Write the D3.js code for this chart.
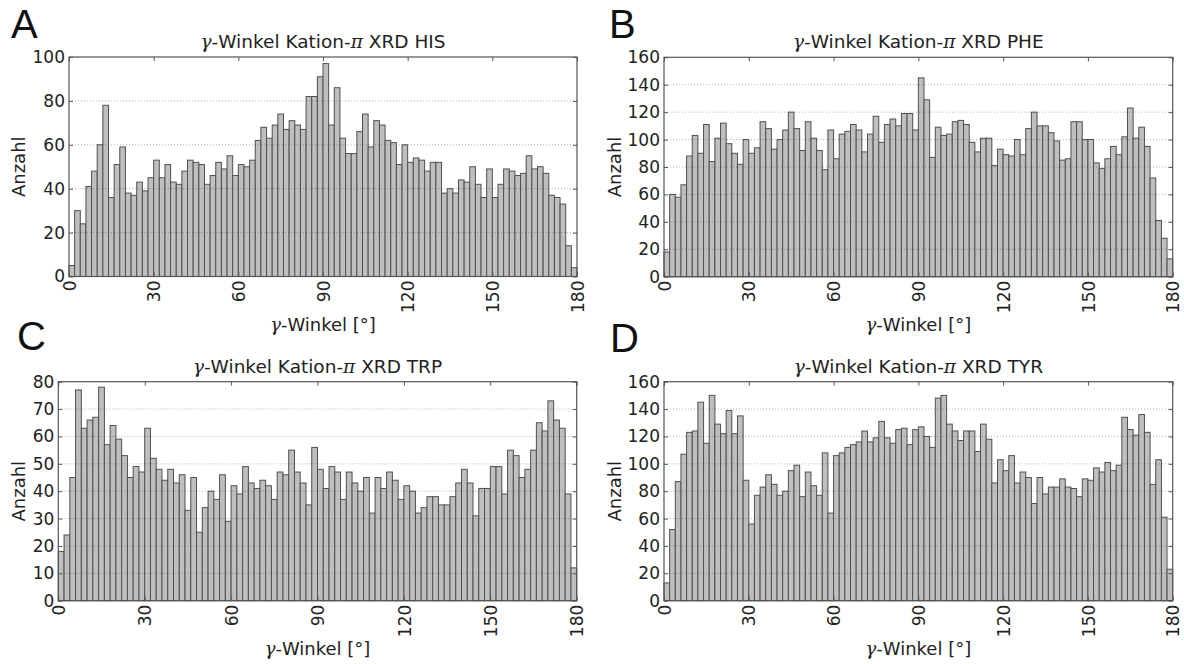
<!DOCTYPE html>
<html><head><meta charset="utf-8">
<script src="https://cdn.jsdelivr.net/npm/d3@7"></script>
<style>body{margin:0;background:#fff}svg{display:block}</style>
</head><body>
<svg id="c" width="1184" height="664"></svg>
<script>
// ---- data ----
const binEdges = d3.range(0, 182, 2);           // 0,2,...,180  (90 bins)
const xTickValues = [0, 30, 60, 90, 120, 150, 180];
const residues = ["HIS", "PHE", "TRP", "TYR"];
const panelLetters = ["A", "B", "C", "D"];

const countsHIS = [5,30,24,41,48,60,78,36,51,59, 38,37,43,39,45,53,45,51,43,42,
  48,53,52,51,42,46,52,49,55,46, 51,50,53,62,68,63,69,74,67,71,
  69,67,82,82,91,97,69,86,63,56, 56,66,74,59,71,69,62,61,51,60,
  52,54,53,48,52,52,38,40,38,44, 43,50,42,36,49,36,42,49,48,46,
  47,55,49,50,47,37,36,33,14,4];
const countsPHE = [18,60,58,67,88,103,90,111,84,101, 112,97,90,82,100,90,94,113,108,93,
  100,107,120,108,92,113,101,92,78,107, 86,104,106,111,107,91,104,117,98,111,
  115,110,119,119,107,145,129,87,109,103, 104,113,114,111,98,91,101,101,81,93,
  89,88,100,89,108,120,110,110,105,99, 85,86,113,113,100,100,83,79,86,95,
  89,102,123,101,109,95,72,41,28,13];
const countsTRP = [18,24,45,77,63,66,67,78,57,64, 59,53,45,49,47,63,52,48,44,48,
  43,46,33,45,25,34,40,37,46,29, 42,39,49,43,41,44,42,37,47,46,
  55,47,43,35,56,48,41,49,47,37, 47,43,40,45,32,45,41,47,44,37,
  42,40,32,34,38,38,35,35,38,43, 48,43,31,41,41,49,49,39,55,53,
  45,48,55,65,62,73,66,63,39,12];
const countsTYR = [13,52,87,107,123,124,145,115,150,129, 122,139,122,135,88,56,77,83,92,85,
  77,80,95,99,76,94,84,77,108,64, 106,108,112,114,116,124,116,119,131,119,
  115,125,126,114,125,127,120,112,148,150, 129,124,117,124,124,109,129,118,86,103,
  95,106,86,94,90,71,90,78,83,83, 89,83,82,76,89,88,97,94,101,95,
  99,134,125,121,136,123,85,103,61,23];

const yTicksHIS = [0, 20, 40, 60, 80, 100];
const yTicksPHE = [0, 20, 40, 60, 80, 100, 120, 140, 160];
const yTicksTRP = [0, 10, 20, 30, 40, 50, 60, 70, 80];
const yTicksTYR = [0, 20, 40, 60, 80, 100, 120, 140, 160];

const seriesCounts = [countsHIS, countsPHE, countsTRP, countsTYR];
const seriesYTicks = [yTicksHIS, yTicksPHE, yTicksTRP, yTicksTYR];

// ---- layout (pixel positions, kept apart from the data) ----
const layout = [
  {l: 69,   r: 577,    t: 57,    b: 276.5, lx: 11,  ly: 38,  yl: 19},
  {l: 664,  r: 1172.7, t: 57.3,  b: 276.7, lx: 609, ly: 38,  yl: 614.5},
  {l: 58.3, r: 576.7,  t: 381.7, b: 600.7, lx: 17,  ly: 350, yl: 19},
  {l: 664,  r: 1172.7, t: 381.7, b: 600.7, lx: 610, ly: 352, yl: 614.5}
];

const svg = d3.select("#c");
const FONT = "DejaVu Sans";
const TXT = "#222";

function gammaText(sel, parts) {
  parts.forEach(([t, m]) => {
    const ts = sel.append("tspan").text(t);
    if (m) ts.attr("font-family", "DejaVu Serif").attr("font-style", "italic");
  });
}

seriesCounts.forEach((counts, k) => {
  const L = layout[k];
  const yTicks = seriesYTicks[k];
  const x = d3.scaleLinear().domain([binEdges[0], binEdges[binEdges.length - 1]]).range([L.l, L.r]);
  const y = d3.scaleLinear().domain([0, d3.max(yTicks)]).range([L.b, L.t]);
  const g = svg.append("g");

  const bins = counts.map((v, i) => ({x0: binEdges[i], x1: binEdges[i + 1], v}));
  g.append("g").selectAll("rect").data(bins).join("rect")
    .attr("x", d => x(d.x0))
    .attr("width", d => x(d.x1) - x(d.x0))
    .attr("y", d => y(d.v))
    .attr("height", d => y(0) - y(d.v))
    .attr("fill", "#bfbfbf")
    .attr("stroke", "#505050")
    .attr("stroke-width", 1);

  g.append("g").selectAll("line").data(yTicks.slice(1, -1)).join("line")
    .attr("x1", L.l).attr("x2", L.r)
    .attr("y1", d => y(d)).attr("y2", d => y(d))
    .attr("stroke", "#000").attr("stroke-opacity", 0.3)
    .attr("stroke-width", 1).attr("stroke-dasharray", "1,2");

  g.append("rect").attr("x", L.l).attr("y", L.t)
    .attr("width", L.r - L.l).attr("height", L.b - L.t)
    .attr("fill", "none").attr("stroke", "#555").attr("stroke-width", 1.2);

  const ax = g.append("g").attr("transform", `translate(0,${L.b})`)
    .call(d3.axisBottom(x).tickValues(xTickValues).tickSizeInner(-4).tickSizeOuter(0).tickPadding(4));
  ax.select(".domain").remove();
  ax.selectAll(".tick line").attr("stroke", "#555");
  ax.selectAll("text")
    .attr("transform", "rotate(-90)").attr("text-anchor", "end")
    .attr("x", -4).attr("y", 0).attr("dy", "0.36em")
    .attr("font-family", FONT).attr("font-size", 17).attr("fill", TXT);

  const axT = g.append("g").attr("transform", `translate(0,${L.t})`)
    .call(d3.axisTop(x).tickValues(xTickValues).tickSizeInner(-4).tickSizeOuter(0).tickFormat(""));
  axT.select(".domain").remove();
  axT.selectAll(".tick line").attr("stroke", "#555");

  const ay = g.append("g").attr("transform", `translate(${L.l},0)`)
    .call(d3.axisLeft(y).tickValues(yTicks).tickSizeInner(-4).tickSizeOuter(0).tickPadding(4));
  ay.select(".domain").remove();
  ay.selectAll(".tick line").attr("stroke", "#555");
  ay.selectAll("text").attr("font-family", FONT).attr("font-size", 17).attr("fill", TXT);

  const ayR = g.append("g").attr("transform", `translate(${L.r},0)`)
    .call(d3.axisRight(y).tickValues(yTicks).tickSizeInner(-4).tickSizeOuter(0).tickFormat(""));
  ayR.select(".domain").remove();
  ayR.selectAll(".tick line").attr("stroke", "#555");

  const cx = (L.l + L.r) / 2;
  const tt = g.append("text").attr("x", cx).attr("y", L.t - 9)
    .attr("text-anchor", "middle").attr("font-family", FONT).attr("font-size", 18.5).attr("fill", TXT);
  gammaText(tt, [["γ", true], ["-Winkel Kation-", false], ["π", true], [" XRD " + residues[k], false]]);

  const xl = g.append("text").attr("x", cx).attr("y", L.b + 54)
    .attr("text-anchor", "middle").attr("font-family", FONT).attr("font-size", 18).attr("fill", TXT);
  gammaText(xl, [["γ", true], ["-Winkel [°]", false]]);

  g.append("text").attr("transform", `translate(${L.yl},${(L.t + L.b) / 2}) rotate(-90)`)
    .attr("text-anchor", "middle").attr("dy", "0.35em")
    .attr("font-family", FONT).attr("font-size", 18).attr("fill", TXT).text("Anzahl");

  g.append("text").attr("x", L.lx).attr("y", L.ly)
    .attr("font-family", "Liberation Sans").attr("font-size", 40).attr("fill", "#111")
    .text(panelLetters[k]);
});
</script>
</body></html>
